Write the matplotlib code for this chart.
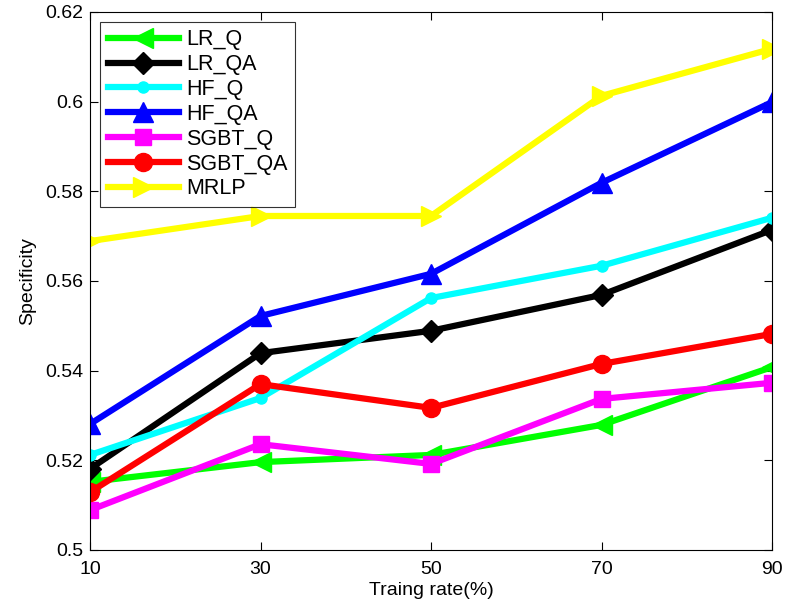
import matplotlib
matplotlib.use("Agg")
import matplotlib.pyplot as plt

rates = [10, 30, 50, 70, 90]
lr_q = [0.5152, 0.5196, 0.5212, 0.5279, 0.5408]
lr_qa = [0.5181, 0.5439, 0.5489, 0.5569, 0.5714]
hf_q = [0.5212, 0.5339, 0.5562, 0.5634, 0.5741]
hf_qa = [0.5281, 0.5522, 0.5616, 0.5819, 0.5999]
sgbt_q = [0.5089, 0.5236, 0.5192, 0.5337, 0.5373]
sgbt_qa = [0.5129, 0.5370, 0.5317, 0.5415, 0.5482]
mrlp = [0.5689, 0.5745, 0.5745, 0.6013, 0.6118]

yticks = [0.5, 0.52, 0.54, 0.56, 0.58, 0.6, 0.62]
ytick_labels = ["0.5", "0.52", "0.54", "0.56", "0.58", "0.6", "0.62"]

plt.rcParams['font.family'] = ['Liberation Sans', 'DejaVu Sans']

fig = plt.figure(figsize=(7.87, 6.10), dpi=100)
ax = fig.add_axes([90/787, 60/610, (772-90)/787, (550-12)/610])

lw = 4.5
series = [
    ("LR_Q", lr_q, (0, 1, 0), "<", 14),
    ("LR_QA", lr_qa, "black", "D", 11),
    ("HF_Q", hf_q, "cyan", "o", 8),
    ("HF_QA", hf_qa, "blue", "^", 14),
    ("SGBT_Q", sgbt_q, "magenta", "s", 11),
    ("SGBT_QA", sgbt_qa, "red", "o", 13),
    ("MRLP", mrlp, "yellow", ">", 14),
]
for name, vals, col, mk, ms in series:
    ax.plot(rates, vals, color=col, lw=lw, marker=mk, markersize=ms,
            markerfacecolor=col, markeredgecolor=col, label=name)

ax.set_xlim(10, 90)
ax.set_ylim(0.5, 0.62)
ax.set_xticks(rates)
ax.set_yticks(yticks)
ax.set_yticklabels(ytick_labels)
ax.tick_params(direction="in", top=True, right=True, labelsize=14, length=6, width=0.8, pad=5)
ax.tick_params(axis="x", pad=8)
ax.set_xlabel("Traing rate(%)", fontsize=14, labelpad=3)
ax.set_ylabel("Specificity", fontsize=14, labelpad=6)
for s in ax.spines.values():
    s.set_linewidth(0.8)

leg = ax.legend(loc="upper left", bbox_to_anchor=(0.015, 0.982), fontsize=15.5,
                frameon=True, fancybox=False, edgecolor="black", handlelength=3.3,
                borderpad=0.35, labelspacing=0.18, handletextpad=0.35, borderaxespad=0)
leg.get_frame().set_linewidth(0.8)

fig.savefig("out.png", dpi=100)
